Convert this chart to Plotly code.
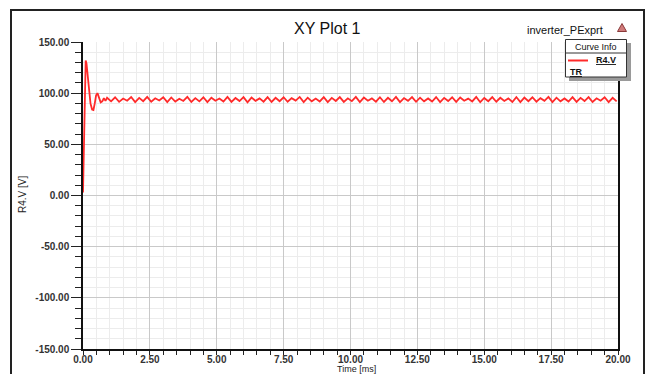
import plotly.graph_objects as go

# ---- data ----
transient_t = [0.00, 0.02, 0.04, 0.06, 0.08, 0.10, 0.13, 0.17, 0.22, 0.28, 0.34, 0.39, 0.44, 0.49, 0.54, 0.60, 0.66, 0.72, 0.78, 0.84]
transient_v = [3.0, 30.0, 38.0, 95.0, 128.0, 132.0, 129.0, 118.0, 104.0, 90.0, 84.0, 83.5, 90.0, 98.0, 100.0, 96.0, 91.0, 92.0, 95.0, 92.5]

ripple_start = 0.90   # ms, first steady-state sample
ripple_step = 0.15    # ms, half ripple period (peak / trough samples)
ripple_v = [
    95.5, 92.0, 96.0, 91.5, 94.8, 92.6, 96.2, 91.2, 95.4, 92.2, 96.4, 91.6, 95.0, 92.8, 96.0, 91.3,
    95.8, 91.8, 94.6, 92.4, 96.3, 91.4, 95.2, 92.0, 96.0, 91.2, 95.6, 92.6, 94.8, 91.8, 96.4, 91.5,
    95.3, 92.3, 96.1, 91.1, 95.7, 92.5, 94.9, 91.7, 96.2, 91.4, 95.5, 92.1, 96.0, 91.6, 95.1, 92.7,
    96.3, 91.3, 95.6, 92.0, 94.7, 91.9, 96.1, 91.2, 95.4, 92.4, 96.2, 91.5, 95.0, 92.2, 96.4, 91.3,
    95.7, 92.6, 94.9, 91.7, 96.0, 91.4, 95.5, 92.1, 96.3, 91.2, 95.2, 92.5, 96.1, 91.6, 95.6, 92.0,
    94.8, 91.8, 96.2, 91.3, 95.4, 92.3, 96.0, 91.5, 95.8, 92.6, 94.7, 91.9, 96.4, 91.2, 95.3, 92.1,
    96.1, 91.6, 95.5, 92.4, 94.9, 91.4, 96.2, 91.3, 95.7, 92.2, 96.0, 91.7, 95.1, 92.5, 96.3, 91.2,
    95.6, 92.0, 94.8, 91.8, 96.1, 91.5, 95.4, 92.3, 96.2, 91.4, 95.0, 92.6, 96.0, 91.3, 95.5, 92.0,
]

x_ticks = [0.0, 2.5, 5.0, 7.5, 10.0, 12.5, 15.0, 17.5, 20.0]
y_ticks = [-150, -100, -50, 0, 50, 100, 150]

ripple_t = [round(ripple_start + ripple_step * k, 3) for k in range(len(ripple_v))]
t_all = transient_t + ripple_t
v_all = transient_v + ripple_v

# ---- layout geometry (pixels) ----
W, H = 648, 374
L, R, T, B = 83, 30, 42, 25
PW, PH = W - L - R, H - T - B


def px(x):
    return (x - L) / PW


def py(y):
    return (H - B - y) / PH


FONT = "Liberation Sans, Arial, sans-serif"

fig = go.Figure()
fig.add_trace(go.Scatter(x=t_all, y=v_all, mode="lines",
                         line=dict(color="#ff2a2a", width=1.8), showlegend=False,
                         hoverinfo="skip"))

fig.update_layout(
    width=W, height=H,
    margin=dict(l=L, r=R, t=T, b=B, autoexpand=False),
    paper_bgcolor="white", plot_bgcolor="white",
    showlegend=False,
)

fig.update_xaxes(
    range=[0, 20], tickvals=x_ticks, ticktext=[f"{v:.2f}" for v in x_ticks],
    showline=True, linecolor="#111", linewidth=1.5, mirror=False,
    ticks="outside", ticklen=4, tickcolor="#222", tickwidth=1.3,
    showgrid=True, gridcolor="#c9c9c9", gridwidth=1,
    minor=dict(dtick=0.5, tick0=0, ticks="outside", ticklen=4, tickcolor="#222",
               showgrid=True, gridcolor="#ececec", gridwidth=1),
    tickfont=dict(family=FONT, size=10, color="#333", weight="bold"),
    ticklabelstandoff=-4,
    zeroline=False, fixedrange=True, automargin=False,
)
fig.update_yaxes(
    range=[-150, 150], tickvals=y_ticks, ticktext=[f"{v:.2f}" for v in y_ticks],
    showline=True, linecolor="#111", linewidth=1.5, mirror=True,
    ticks="outside", ticklen=10, tickcolor="#222", tickwidth=1.3,
    showgrid=True, gridcolor="#c9c9c9", gridwidth=1,
    minor=dict(dtick=10, tick0=0, ticks="outside", ticklen=6, tickcolor="#222",
               showgrid=True, gridcolor="#ececec", gridwidth=1),
    tickfont=dict(family=FONT, size=10, color="#333", weight="bold"),
    zeroline=False, fixedrange=True, automargin=False,
)

shapes = []
# outer frame
shapes.append(dict(type="rect", xref="paper", yref="paper",
                   x0=px(11), x1=px(644), y0=py(385), y1=py(10),
                   line=dict(color="#222", width=2), fillcolor="rgba(0,0,0,0)", layer="above"))
# legend shadow
shapes.append(dict(type="rect", xref="paper", yref="paper",
                   x0=px(569), x1=px(631), y0=py(81), y1=py(43),
                   line=dict(width=0), fillcolor="#9a9a9a", layer="above"))
# legend box
shapes.append(dict(type="rect", xref="paper", yref="paper",
                   x0=px(565.5), x1=px(626.5), y0=py(77), y1=py(39.5),
                   line=dict(color="#333", width=1), fillcolor="white", layer="above"))
# header separator
shapes.append(dict(type="line", xref="paper", yref="paper",
                   x0=px(565.5), x1=px(626.5), y0=py(53), y1=py(53),
                   line=dict(color="#333", width=1), layer="above"))
# legend line sample
shapes.append(dict(type="line", xref="paper", yref="paper",
                   x0=px(568), x1=px(588), y0=py(60.5), y1=py(60.5),
                   line=dict(color="#ff2a2a", width=2), layer="above"))
# warning triangle icon
shapes.append(dict(type="path", xref="paper", yref="paper",
                   path=f"M {px(617.5)} {py(31.5)} L {px(626.5)} {py(31.5)} L {px(622)} {py(23.5)} Z",
                   line=dict(color="#8a3a3a", width=1), fillcolor="#d07a7a", layer="above"))
fig.update_layout(shapes=shapes)

ann = []
ann.append(dict(text="XY Plot 1", x=px(327), y=py(29), xref="paper", yref="paper",
                showarrow=False, xanchor="center", yanchor="middle",
                font=dict(family=FONT, size=16, color="#111")))
ann.append(dict(text="inverter_PExprt", x=px(605), y=py(30), xref="paper", yref="paper",
                showarrow=False, xanchor="right", yanchor="middle",
                font=dict(family=FONT, size=11, color="#111")))
ann.append(dict(text="Curve Info", x=px(596), y=py(46.5), xref="paper", yref="paper",
                showarrow=False, xanchor="center", yanchor="middle",
                font=dict(family=FONT, size=9, color="#111")))
ann.append(dict(text="<u>R4.V</u>", x=px(593.5), y=py(60), xref="paper", yref="paper",
                showarrow=False, xanchor="left", yanchor="middle",
                font=dict(family=FONT, size=9, color="#111", weight="bold")))
ann.append(dict(text="<u>TR</u>", x=px(567.5), y=py(71.5), xref="paper", yref="paper",
                showarrow=False, xanchor="left", yanchor="middle",
                font=dict(family=FONT, size=9, color="#111", weight="bold")))
ann.append(dict(text="Time [ms]", x=px(356), y=py(369), xref="paper", yref="paper",
                showarrow=False, xanchor="center", yanchor="middle", borderpad=0,
                font=dict(family=FONT, size=9, color="#222")))
ann.append(dict(text="R4.V [V]", x=px(22), y=py(195), xref="paper", yref="paper",
                showarrow=False, xanchor="center", yanchor="middle", textangle=-90,
                font=dict(family=FONT, size=10, color="#222")))
fig.update_layout(annotations=ann)

fig.write_html("out.html", config={"displayModeBar": False},
               post_script="document.body.style.margin='0';document.body.style.overflow='hidden';")
